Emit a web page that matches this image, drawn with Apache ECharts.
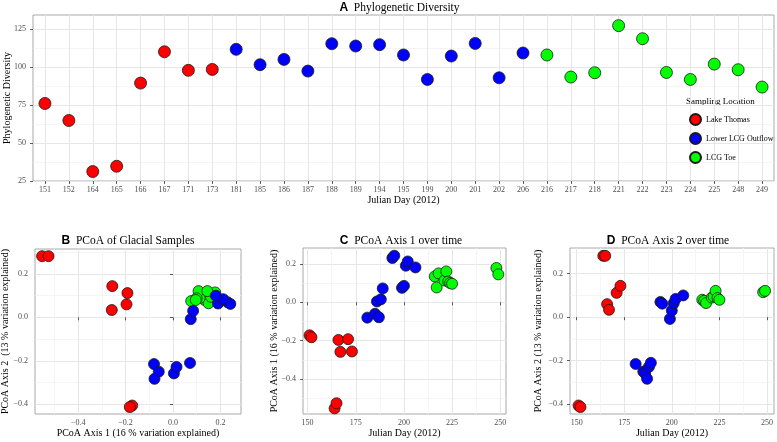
<!DOCTYPE html>
<html><head><meta charset="utf-8">
<script src="https://cdn.jsdelivr.net/npm/echarts@6/dist/echarts.min.js"></script>
<style>html,body{margin:0;padding:0;background:#fff}#c{width:777px;height:442px}</style>
</head><body><div id="c"></div>
<script>
// ---------- data ----------
const dayLabels = ['151','152','164','165','166','167','171','173','181','185','186','187','188','189','194','195','199','200','201','202','206','216','217','218','221','222','223','224','225','248','249'];

// Lake Thomas
const lakeDays  = [151, 152, 164, 165, 166, 167, 171, 173];
const lakePD    = [76.0, 64.8, 31.2, 34.7, 89.4, 110.0, 97.8, 98.4];
const lakeAxis1 = [-0.172, -0.182, -0.552, -0.525, -0.196, -0.258, -0.192, -0.256];
const lakeAxis2 = [-0.406, -0.413, 0.282, 0.282, 0.060, 0.034, 0.112, 0.144];

// Lower LCG Outflow
const outDays  = [181, 185, 186, 187, 188, 189, 194, 195, 199, 200, 201, 202, 206];
const outPD    = [111.6, 101.5, 105.0, 97.3, 115.3, 113.8, 114.7, 107.9, 91.8, 107.2, 115.5, 92.9, 109.2];
const outAxis1 = [-0.080, -0.060, 0.004, -0.078, 0.015, 0.072, 0.230, 0.242, 0.075, 0.085, 0.190, 0.212, 0.181];
const outAxis2 = [-0.215, -0.250, -0.258, -0.283, -0.228, -0.210, 0.070, 0.062, -0.008, 0.030, 0.064, 0.084, 0.100];

// LCG Toe
const toeDays  = [216, 217, 218, 221, 222, 223, 224, 225, 248, 249];
const toePD    = [107.9, 93.4, 96.2, 127.2, 118.6, 96.4, 91.8, 101.9, 98.2, 86.8];
const toeAxis1 = [0.134, 0.077, 0.150, 0.113, 0.160, 0.108, 0.100, 0.096, 0.178, 0.145];
const toeAxis2 = [0.080, 0.075, 0.065, 0.090, 0.095, 0.121, 0.088, 0.080, 0.115, 0.121];

// tick values
const pdTicks = [25, 50, 75, 100, 125];
const pdMinor = [37.5, 62.5, 87.5, 112.5];
const pcoTicks = [-0.4, -0.2, 0, 0.2];
const pcoMinor = [-0.5, -0.3, -0.1, 0.1, 0.3];
const dayTicks = [150, 175, 200, 225, 250];
const dayMinor = [162.5, 187.5, 212.5, 237.5];

const groupNames = ['Lake Thomas', 'Lower LCG Outflow', 'LCG Toe'];
const groupColors = ['#ff0000', '#0000ff', '#00ff00'];

// ---------- styling ----------
const SERIF = 'Liberation Serif';
const SANS = 'Liberation Sans';
const tickColor = '#333333';
const labColor = '#4d4d4d';
const majorCol = '#e6e6e6';
const minorCol = '#f3f3f3';

function fmt(v) {
  if (Math.abs(v) < 1e-9) return '0.0';
  return (v < 0 ? '\u2212' : '') + Math.abs(v).toFixed(1);
}

function minorAxis(grid, min, max, vals, isX) {
  return {
    type: 'value', gridIndex: grid, min: min, max: max,
    position: isX ? 'bottom' : 'left',
    axisLine: {show: false},
    axisTick: {show: false, customValues: vals},
    axisLabel: {show: false, customValues: vals},
    splitLine: {show: true, lineStyle: {color: minorCol, width: 0.8}}
  };
}
function majorAxis(grid, min, max, vals, isX, name, gap, formatter, margin) {
  return {
    type: 'value', gridIndex: grid, min: min, max: max,
    position: isX ? 'bottom' : 'left',
    name: name, nameLocation: 'middle', nameGap: gap, nameMoveOverlap: false,
    nameTextStyle: {fontFamily: SERIF, fontSize: 10, color: '#000'},
    axisLine: {show: false},
    axisTick: {show: true, length: 3, customValues: vals, lineStyle: {color: tickColor, width: 0.8}},
    axisLabel: {customValues: vals, formatter: formatter, fontFamily: SERIF, fontSize: 8, color: labColor, margin: margin},
    splitLine: {show: true, lineStyle: {color: majorCol, width: 1}}
  };
}

const gridStyle = {show: true, borderColor: '#a8a8a8', borderWidth: 1, backgroundColor: '#fff', outerBoundsMode: 'none', containLabel: false};

const grids = [
  Object.assign({left: 33, top: 15, width: 741, height: 166}, gridStyle),
  Object.assign({left: 35, top: 249, width: 206, height: 165}, gridStyle),
  Object.assign({left: 303, top: 248, width: 203, height: 166}, gridStyle),
  Object.assign({left: 570, top: 248, width: 204, height: 166}, gridStyle)
];

const xAxes = [
  {
    type: 'category', gridIndex: 0, data: dayLabels, boundaryGap: true, position: 'bottom',
    name: 'Julian Day (2012)', nameLocation: 'middle', nameGap: 14, nameMoveOverlap: false,
    nameTextStyle: {fontFamily: SERIF, fontSize: 10, color: '#000'},
    axisLine: {show: false},
    axisTick: {show: true, alignWithLabel: true, length: 3, lineStyle: {color: tickColor, width: 0.8}},
    axisLabel: {interval: 0, fontFamily: SERIF, fontSize: 8, color: labColor, margin: 5},
    splitLine: {show: true, alignWithLabel: true, lineStyle: {color: majorCol, width: 1}}
  },
  minorAxis(1, -0.582, 0.287, pcoMinor, true),
  majorAxis(1, -0.582, 0.287, pcoTicks, true, 'PCoA Axis 1 (16 % variation explained)', 14, fmt, 5),
  minorAxis(2, 147.6, 253, dayMinor, true),
  majorAxis(2, 147.6, 253, dayTicks, true, 'Julian Day (2012)', 14, v => String(v), 5),
  minorAxis(3, 146.5, 253.7, dayMinor, true),
  majorAxis(3, 146.5, 253.7, dayTicks, true, 'Julian Day (2012)', 14, v => String(v), 5)
];

const yAxes = [
  minorAxis(0, 25, 134.2, pdMinor, false),
  majorAxis(0, 25, 134.2, pdTicks, false, 'Phylogenetic Diversity', 21, v => String(v), 7),
  minorAxis(1, -0.445, 0.315, pcoMinor, false),
  majorAxis(1, -0.445, 0.315, pcoTicks, false, 'PCoA Axis 2  (13 % variation explained)', 25, fmt, 7),
  minorAxis(2, -0.581, 0.282, pcoMinor, false),
  majorAxis(2, -0.581, 0.282, pcoTicks, false, 'PCoA Axis 1 (16 % variation explained)', 23.5, fmt, 7),
  minorAxis(3, -0.445, 0.318, pcoMinor, false),
  majorAxis(3, -0.445, 0.318, pcoTicks, false, 'PCoA Axis 2 (13 % variation explained)', 26.5, fmt, 7)
];

const groups = [
  {days: lakeDays, pd: lakePD, a1: lakeAxis1, a2: lakeAxis2},
  {days: outDays, pd: outPD, a1: outAxis1, a2: outAxis2},
  {days: toeDays, pd: toePD, a1: toeAxis1, a2: toeAxis2}
];

function sc(gi, xi, yi, size, data) {
  return {
    type: 'scatter', name: groupNames[gi], xAxisIndex: xi, yAxisIndex: yi,
    symbol: 'circle', symbolSize: size, data: data,
    itemStyle: {color: groupColors[gi], borderColor: '#1a1a1a', borderWidth: 0.8, opacity: 1},
    emphasis: {disabled: true}, silent: true, z: 3
  };
}

const series = [];
groups.forEach((g, i) => {
  series.push(sc(i, 0, 1, 12, g.days.map((d, k) => [String(d), g.pd[k]])));
});
// panel B: draw Lake, Toe, Outflow order
[0, 2, 1].forEach(i => {
  const g = groups[i];
  series.push(sc(i, 2, 3, 11, g.a1.map((v, k) => [v, g.a2[k]])));
});
groups.forEach((g, i) => {
  series.push(sc(i, 4, 5, 11, g.days.map((d, k) => [d, g.a1[k]])));
});
groups.forEach((g, i) => {
  series.push(sc(i, 6, 7, 11, g.days.map((d, k) => [d, g.a2[k]])));
});

function titleText(x, y, letter, text) {
  return {
    type: 'text', x: x, y: y,
    style: {
      text: '{a|' + letter + '}{b|  ' + text + '}',
      align: 'center', verticalAlign: 'middle',
      rich: {
        a: {fontFamily: SANS, fontWeight: 'bold', fontSize: 12, fill: '#000'},
        b: {fontFamily: SERIF, fontSize: 11.5, fill: '#000'}
      }
    }
  };
}

const option = {
  animation: false,
  backgroundColor: '#fff',
  grid: grids,
  xAxis: xAxes,
  yAxis: yAxes,
  series: series,
  legend: {
    data: groupNames, orient: 'vertical', left: 684, top: 108,
    itemWidth: 11, itemHeight: 11, itemGap: 6, icon: 'circle', selectedMode: false,
    textStyle: {fontFamily: SERIF, fontSize: 8, color: '#000'}
  },
  graphic: [
    titleText(399.5, 7.5, 'A', 'Phylogenetic Diversity'),
    titleText(128, 241, 'B', 'PCoA of Glacial Samples'),
    titleText(401, 241, 'C', 'PCoA Axis 1 over time'),
    titleText(668, 241, 'D', 'PCoA Axis 2 over time'),
    {type: 'text', x: 686, y: 102, style: {text: 'Sampling Location', fontFamily: SERIF, fontSize: 9, fill: '#000', align: 'left', verticalAlign: 'middle'}}
  ]
};

const chart = echarts.init(document.getElementById('c'), null, {renderer: 'canvas'});
chart.setOption(option);
</script>
</body></html>
